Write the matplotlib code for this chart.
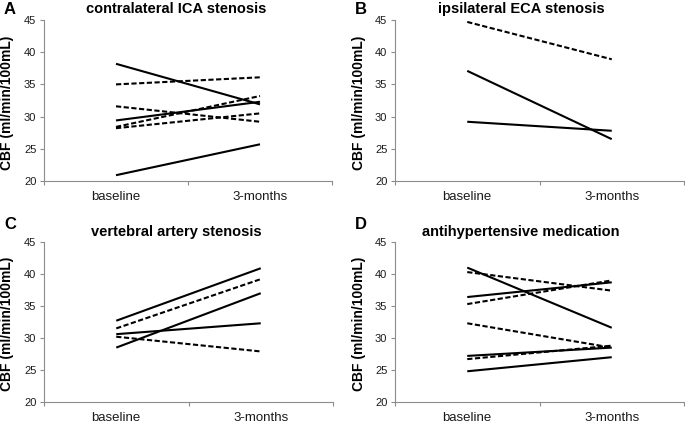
import matplotlib
matplotlib.use("Agg")
import matplotlib.pyplot as plt
from matplotlib.ticker import FixedLocator

plt.rcParams['font.family'] = ['Liberation Sans', 'DejaVu Sans']

categories = ["baseline", "3-months"]
y_ticks = [20, 25, 30, 35, 40, 45]

titles = ["contralateral ICA stenosis", "ipsilateral ECA stenosis",
          "vertebral artery stenosis", "antihypertensive medication"]
letters = ["A", "B", "C", "D"]

# each patient: (baseline, 3-months); solid vs dashed groups
A_solid = [(38.2, 31.9), (29.4, 32.3), (20.9, 25.7)]
A_dashed = [(35.0, 36.1), (31.6, 29.2), (28.4, 33.2), (28.2, 30.5)]
B_solid = [(37.1, 26.5), (29.2, 27.8)]
B_dashed = [(44.7, 38.9)]
C_solid = [(32.7, 40.9), (28.5, 37.0), (30.6, 32.3)]
C_dashed = [(31.5, 39.2), (30.2, 27.9)]
D_solid = [(41.0, 31.6), (36.4, 38.7), (27.2, 28.5), (24.8, 27.0)]
D_dashed = [(40.3, 37.4), (35.3, 39.0), (32.3, 28.5), (26.7, 28.8)]

panels = [(A_solid, A_dashed), (B_solid, B_dashed), (C_solid, C_dashed), (D_solid, D_dashed)]

fig = plt.figure(figsize=(6.85, 4.25), dpi=100)
W, H = 685, 425
# axes boxes in pixels: left, top, right, bottom
boxes = [(44, 20, 332, 181), (395, 20, 684, 181), (44, 242, 333, 402), (395, 242, 684, 402)]
title_x = [0.458, 0.436, 0.458, 0.436]
title_pad = [5, 5, 4, 4]
letter_y = [9, 9, 224, 224]

xpos = [0.5, 1.5]
axis_color = "#8c8c8c"
for i, (box, (solid, dashed)) in enumerate(zip(boxes, panels)):
    l, t, r, b = box
    ax = fig.add_axes([l / W, 1 - b / H, (r - l) / W, (b - t) / H])
    for s in solid:
        ax.plot(xpos, s, color="black", lw=1.5, solid_capstyle="butt")
    for d in dashed:
        ax.plot(xpos, d, color="black", lw=1.5, linestyle=(0, (2.5, 1.2)), dash_capstyle="butt")
    ax.set_xlim(0, 2)
    ax.set_ylim(20, 45)
    ax.set_yticks(y_ticks)
    ax.xaxis.set_major_locator(FixedLocator([0, 1, 2]))
    ax.set_xticklabels([])
    ax.xaxis.set_minor_locator(FixedLocator(xpos))
    ax.set_xticklabels(categories, minor=True)
    ax.tick_params(axis="x", which="minor", length=0, labelsize=9.5, pad=7.5, labelcolor="#1a1a1a")
    ax.tick_params(axis="x", which="major", length=3, color=axis_color, width=0.8)
    ax.tick_params(axis="y", length=3, color=axis_color, width=0.8, labelsize=8, pad=2.5, labelcolor="#1a1a1a")
    for side in ["top", "right"]:
        ax.spines[side].set_visible(False)
    for side in ["left", "bottom"]:
        ax.spines[side].set_color(axis_color)
        ax.spines[side].set_linewidth(0.8)
    ax.set_title(titles[i], fontsize=10.5, fontweight="bold", x=title_x[i], pad=title_pad[i])
    fig.text((l - 36.5) / W, 1 - ((t + b) / 2 + 2) / H, "CBF (ml/min/100mL)", rotation=90,
             fontsize=10, fontweight="bold", ha="center", va="center")
    fig.text((l - 40) / W, 1 - letter_y[i] / H, letters[i],
             fontsize=12, fontweight="bold", ha="left", va="center")

fig.savefig("out.png", dpi=100)
